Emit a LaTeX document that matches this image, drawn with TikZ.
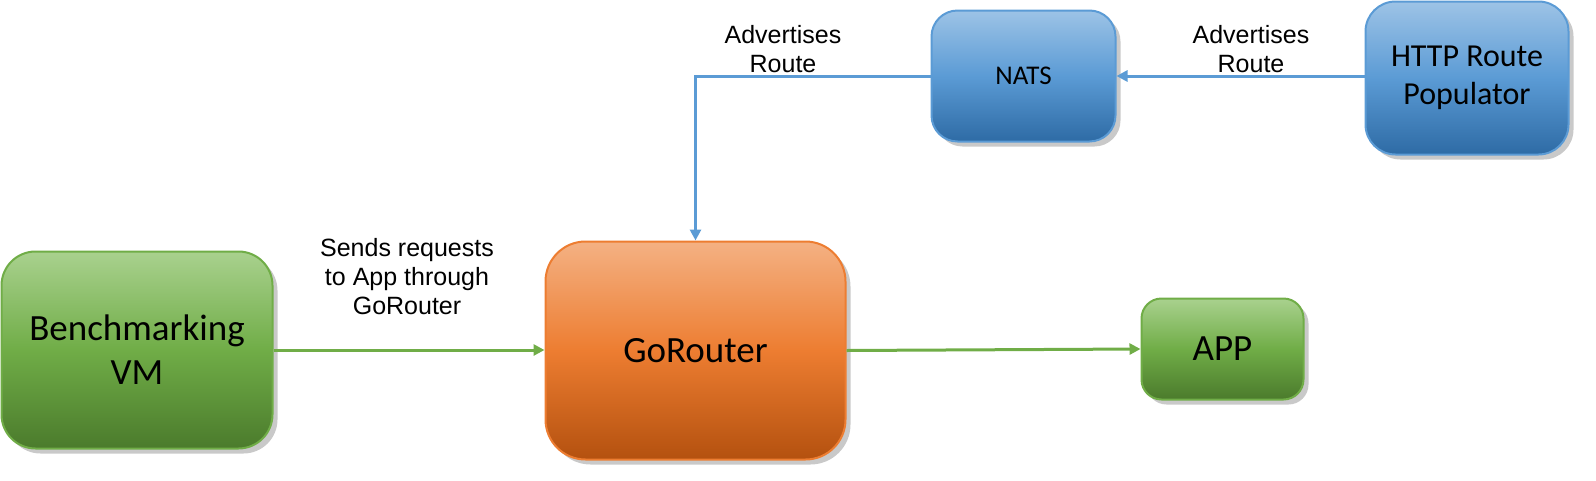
\documentclass[tikz,border=0pt]{standalone}
\usepackage{fontspec}
\setmainfont{Liberation Sans}
\newfontfamily\boxfont{Carlito}
\usetikzlibrary{arrows.meta,shadows}
\definecolor{gTop}{HTML}{A9D18E}
\definecolor{gMid}{HTML}{70AD47}
\definecolor{gBot}{HTML}{4B7B2C}
\definecolor{gLine}{HTML}{70AD47}
\definecolor{oTop}{HTML}{F4B183}
\definecolor{oMid}{HTML}{ED7D31}
\definecolor{oBot}{HTML}{B4510F}
\definecolor{oLine}{HTML}{ED7D31}
\definecolor{bTop}{HTML}{9DC3E6}
\definecolor{bMid}{HTML}{5B9BD5}
\definecolor{bBot}{HTML}{2E6BA5}
\definecolor{bLine}{HTML}{5B9BD5}
\tikzset{
  basebox/.style={rectangle, inner sep=0pt, line width=2pt, align=center,
    font=\boxfont, text=black,
    drop shadow={shadow xshift=5pt, shadow yshift=-5pt, opacity=0.3, fill=black!70}},
  greenbox/.style={basebox, draw=gLine, top color=gTop, bottom color=gBot, middle color=gMid},
  orangebox/.style={basebox, draw=oLine, top color=oTop, bottom color=oBot, middle color=oMid},
  bluebox/.style={basebox, draw=bLine, top color=bTop, bottom color=bBot, middle color=bMid},
  garrow/.style={draw=gLine, line width=3pt, -{Triangle[length=11pt,width=11pt]}},
  barrow/.style={draw=bLine, line width=3pt, -{Triangle[length=11pt,width=11pt]}},
  lbl/.style={align=center, font=\fontsize{25}{29}\selectfont, text=black, inner sep=0pt}
}
\begin{document}
\begin{tikzpicture}[x=1pt,y=-1pt]
\useasboundingbox (0,0) rectangle (1596,480);
\node[greenbox, rounded corners=34pt, minimum width=271pt, minimum height=197pt,
  font=\boxfont\fontsize{37}{44}\selectfont] (bench) at (137,350) {Benchmarking\\VM};
\node[orangebox, rounded corners=40pt, minimum width=300pt, minimum height=218pt,
  font=\boxfont\fontsize{37}{44}\selectfont] (gorouter) at (695.5,350.5) {GoRouter};
\node[greenbox, rounded corners=20pt, minimum width=162pt, minimum height=101pt,
  font=\boxfont\fontsize{37}{44}\selectfont] (app) at (1222.5,349) {APP};
\node[bluebox, rounded corners=26pt, minimum width=184pt, minimum height=131pt,
  font=\boxfont\fontsize{27}{32}\selectfont] (nats) at (1023.5,76) {NATS};
\node[bluebox, rounded corners=30pt, minimum width=203pt, minimum height=153pt,
  font=\boxfont\fontsize{32}{38}\selectfont] (http) at (1467,78) {HTTP Route\\Populator};
\coordinate (corner) at (gorouter.center |- nats.west);
\draw[garrow] (bench.east) -- (bench.east -| gorouter.west);
\draw[garrow] (gorouter.east) -- (app.west);
\draw[barrow] (http.west |- nats.east) -- (nats.east);
\draw[barrow] (nats.west) -- (corner) -- (gorouter.north);
\node[lbl] (lsend) at (407,277) {Sends requests\\to App through\\GoRouter};
\node[lbl] (ladv1) at (783,49.5) {Advertises\\Route};
\node[lbl] (ladv2) at (1251,49) {Advertises\\Route};
\end{tikzpicture}
\end{document}
